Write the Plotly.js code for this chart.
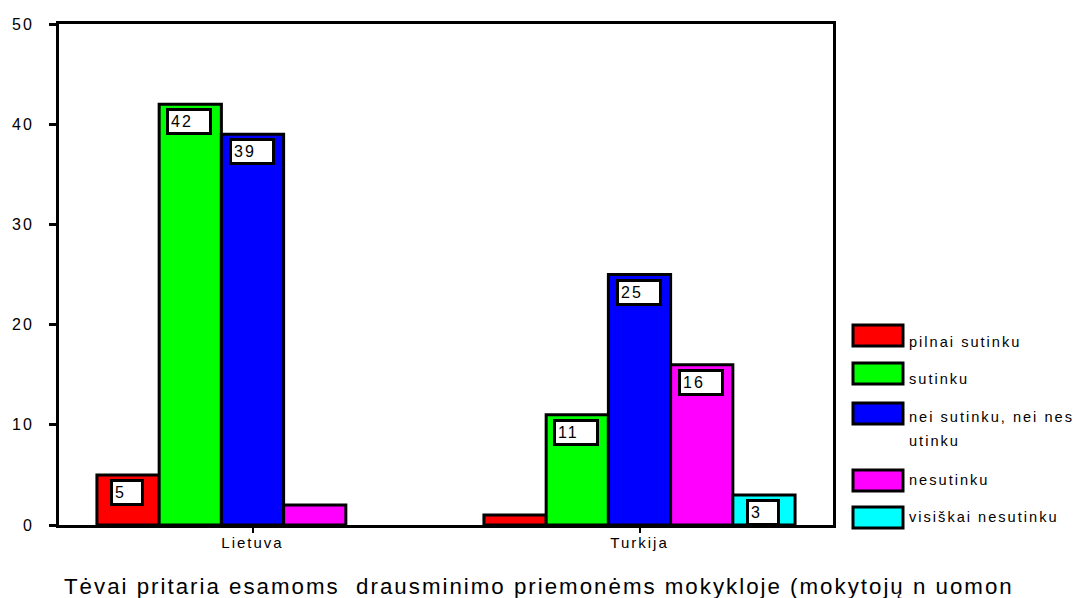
<!DOCTYPE html>
<html>
<head>
<meta charset="utf-8">
<script src="https://cdn.plot.ly/plotly-3.0.1.min.js"></script>
<style>
html,body{margin:0;padding:0;background:#fff;}
#chart{width:1075px;height:598px;}
svg text{letter-spacing:2px;}
</style>
</head>
<body>
<div id="chart"></div>
<script>
// ---- data ----
const categories = ['Lietuva', 'Turkija'];
const seriesNames = ['pilnai sutinku', 'sutinku', 'nei sutinku, nei nesutinku', 'nesutinku', 'visiškai nesutinku'];
const pilnaiSutinku = [5, 1];
const sutinku = [42, 11];
const neiSutinku = [39, 25];
const nesutinku = [2, 16];
const visiskaiNesutinku = [null, 3];
const yTicks = [0, 10, 20, 30, 40, 50];
const chartTitle = 'Tėvai pritaria esamoms  drausminimo priemonėms mokykloje (mokytojų n uomon';

const seriesValues = [pilnaiSutinku, sutinku, neiSutinku, nesutinku, visiskaiNesutinku];
const colors = ['#FF0000', '#00FF00', '#0000FF', '#FF00FF', '#00FFFF'];

// ---- layout geometry ----
const FONT = 'Liberation Sans, Arial, sans-serif';
const W = 1075, H = 598;
const mL = 59, mR = 242, mT = 24, mB = 73;
const plotW = W - mL - mR, plotH = H - mT - mB;
const bargap = 0.196;
const nS = seriesValues.length;
const barW = plotW / categories.length * (1 - bargap) / nS;

const traces = seriesValues.map((vals, i) => ({
  type: 'bar',
  name: seriesNames[i],
  x: categories,
  y: vals,
  marker: {color: colors[i], line: {color: '#000', width: 3}},
  showlegend: false,
  hoverinfo: 'skip'
}));

// value labels (white boxes)
const annotations = [];
seriesValues.forEach((vals, i) => {
  vals.forEach((v, j) => {
    if (v === null || v < 3) return;
    annotations.push({
      x: categories[j], y: v, xref: 'x', yref: 'y',
      xshift: (i - (nS - 1) / 2) * barW - 1,
      yshift: -4,
      yanchor: 'top', xanchor: 'center',
      text: String(v), showarrow: false,
      bgcolor: '#fff', bordercolor: '#000', borderwidth: 3, borderpad: 2,
      width: String(v).length > 1 ? 36 : 24,
      align: 'left',
      font: {family: FONT, size: 16, color: '#000'}
    });
  });
});

// legend drawn manually
const shapes = [];
const legendTop = [324, 362, 402, 469, 506];
const legendTextY = [[342], [379], [417, 441], [480], [517]];
const px2x = px => (px - mL) / plotW;
const py2y = py => (H - mB - py) / plotH;
function wrapLines(s) { return s.length > 20 ? [s.slice(0, 20), s.slice(20)] : [s]; }
seriesNames.forEach((n, i) => {
  const t = legendTop[i];
  shapes.push({
    type: 'rect', xref: 'paper', yref: 'paper',
    x0: px2x(853), x1: px2x(903), y0: py2y(t + 1), y1: py2y(t + 22),
    fillcolor: colors[i], line: {color: '#000', width: 3}
  });
  wrapLines(n).forEach((line, k) => {
    annotations.push({
      xref: 'paper', yref: 'paper',
      x: px2x(907), y: py2y(legendTextY[i][k]),
      xanchor: 'left', yanchor: 'middle',
      text: line, showarrow: false, align: 'left',
      font: {family: FONT, size: 14.6, color: '#000'}
    });
  });
});

// bottom title
annotations.push({
  xref: 'paper', yref: 'paper',
  x: px2x(539), y: py2y(586),
  xanchor: 'center', yanchor: 'middle',
  text: chartTitle, showarrow: false,
  font: {family: FONT, size: 22.3, color: '#000'}
});

const layout = {
  width: W, height: H,
  margin: {l: mL, r: mR, t: mT, b: mB, pad: 0},
  paper_bgcolor: '#fff', plot_bgcolor: '#fff',
  barmode: 'group', bargap: bargap, bargroupgap: 0,
  font: {family: FONT, size: 15, color: '#000'},
  xaxis: {
    type: 'category', showgrid: false, zeroline: false,
    showline: true, linecolor: '#000', linewidth: 3, mirror: true,
    ticks: 'outside', ticklen: 5, tickwidth: 2, tickcolor: '#000',
    ticklabelstandoff: -3,
    tickfont: {size: 15, color: '#000'}
  },
  yaxis: {
    range: [0, 50], tickvals: yTicks, showgrid: false, zeroline: false,
    showline: true, linecolor: '#000', linewidth: 3, mirror: true,
    ticks: 'outside', ticklen: 7, tickwidth: 3, tickcolor: '#000',
    ticklabelstandoff: 12,
    tickfont: {size: 16, color: '#000'}
  },
  shapes: shapes,
  annotations: annotations
};

Plotly.newPlot('chart', traces, layout, {displayModeBar: false, staticPlot: true});
</script>
</body>
</html>
